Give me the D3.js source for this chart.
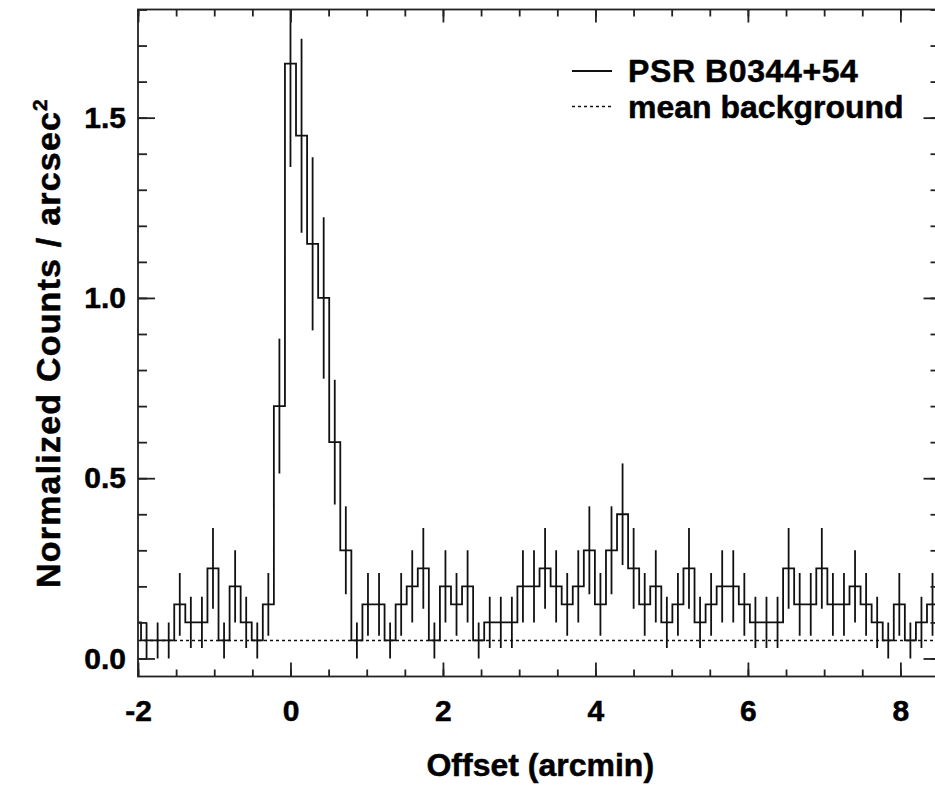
<!DOCTYPE html>
<html><head><meta charset="utf-8">
<script src="https://cdn.jsdelivr.net/npm/d3@7"></script>
<style>
body{margin:0;background:#fff}
svg{display:block}
text{font-family:"Liberation Sans",Arial,Helvetica,sans-serif;font-weight:bold;fill:#000;stroke:#000;stroke-width:0.5px}
</style>
</head><body>
<svg id="c" width="935" height="787"></svg>
<script>
// ---- data ----
const binWidth = 0.1452;          // arcmin per bin
const firstBinIndex = -14;        // index of first bin (bin centre = index * binWidth)
const counts = [0.10,0.05,0.05,0.05,0.15,0.10,0.10,0.25,0.05,0.20,0.10,0.05,0.15,0.70,
  1.65,1.45,1.15,1.00,0.60,0.30,0.05,0.15,0.15,0.05,
  0.15,0.20,0.25,0.05,0.20,0.15,0.20,0.05,0.10,0.10,
  0.10,0.20,0.20,0.25,0.20,0.15,0.20,0.30,0.15,0.30,
  0.40,0.25,0.15,0.20,0.10,0.15,0.25,0.10,0.15,0.20,
  0.20,0.15,0.10,0.10,0.10,0.25,0.15,0.15,0.25,0.15,
  0.15,0.20,0.15,0.10,0.05,0.15,0.05,0.10,0.15];
const errors = [0.071,0.05,0.05,0.05,0.087,0.071,0.071,0.112,0.05,0.10,0.071,0.05,0.087,0.187,
  0.287,0.269,0.240,0.224,0.173,0.122,0.05,0.087,0.087,0.05,
  0.087,0.10,0.112,0.05,0.10,0.087,0.10,0.05,0.071,0.071,
  0.071,0.10,0.10,0.112,0.10,0.087,0.10,0.122,0.087,0.122,
  0.141,0.112,0.087,0.10,0.071,0.087,0.112,0.071,0.087,0.10,
  0.10,0.087,0.071,0.071,0.071,0.112,0.087,0.087,0.112,0.087,
  0.087,0.10,0.087,0.071,0.05,0.087,0.05,0.071,0.087];
const meanBackground = 0.05;
const xDomain = [-2, 8.5];
const yDomain = [-0.05, 1.8];
const xTicks = [-2, 0, 2, 4, 6, 8];
const xTickLabels = ["-2", "0", "2", "4", "6", "8"];
const yTicks = [0.0, 0.5, 1.0, 1.5];
const yTickLabels = ["0.0", "0.5", "1.0", "1.5"];
const xMinorStep = 0.5, yMinorStep = 0.1;
const legendLabels = ["PSR B0344+54", "mean background"];
const xTitle = "Offset (arcmin)";
const yTitle = "Normalized Counts / arcsec";

// ---- layout ----
const L = 138, R = 938.5, T = 9.5, B = 676.5;
const svg = d3.select("#c");
const x = d3.scaleLinear().domain(xDomain).range([L, R]);
const y = d3.scaleLinear().domain(yDomain).range([B, T]);
const ink = "#111";

svg.append("defs").append("clipPath").attr("id", "clip")
  .append("rect").attr("x", L).attr("y", T).attr("width", R - L).attr("height", B - T);

const bins = counts.map((v, i) => {
  const c = (firstBinIndex + i) * binWidth;
  return {c, v, e: errors[i]};
});

const plot = svg.append("g").attr("clip-path", "url(#clip)");

// histogram steps
const pts = [];
bins.forEach(b => { pts.push([b.c - binWidth / 2, b.v]); pts.push([b.c + binWidth / 2, b.v]); });
plot.append("path")
  .attr("d", d3.line().x(d => x(d[0])).y(d => y(d[1]))(pts))
  .attr("fill", "none").attr("stroke", ink).attr("stroke-width", 1.8);

// error bars
plot.selectAll("line.err").data(bins).join("line").attr("class", "err")
  .attr("x1", d => x(d.c)).attr("x2", d => x(d.c))
  .attr("y1", d => y(d.v - d.e)).attr("y2", d => y(d.v + d.e))
  .attr("stroke", ink).attr("stroke-width", 1.8);

// mean background
plot.append("line")
  .attr("x1", x(xDomain[0])).attr("x2", x(xDomain[1]))
  .attr("y1", y(meanBackground)).attr("y2", y(meanBackground))
  .attr("stroke", ink).attr("stroke-width", 1.6).attr("stroke-dasharray", "3,3");

// frame
svg.append("rect").attr("x", L).attr("y", T).attr("width", R - L).attr("height", B - T)
  .attr("fill", "none").attr("stroke", "#222").attr("stroke-width", 1.8);

const xMinor = d3.range(xDomain[0], xDomain[1] + 1e-6, xMinorStep);
const yMinor = d3.range(0, yDomain[1] + 1e-6, yMinorStep).map(v => +v.toFixed(2));

function styleAxis(g) {
  g.select(".domain").remove();
  g.selectAll("line").attr("stroke", "#222").attr("stroke-width", 1.8);
}
// minor ticks
svg.append("g").attr("transform", `translate(0,${B})`)
  .call(d3.axisBottom(x).tickValues(xMinor).tickSize(-7).tickFormat("")).call(styleAxis);
svg.append("g").attr("transform", `translate(0,${T})`)
  .call(d3.axisTop(x).tickValues(xMinor).tickSize(-7).tickFormat("")).call(styleAxis);
svg.append("g").attr("transform", `translate(${L},0)`)
  .call(d3.axisLeft(y).tickValues(yMinor).tickSize(-9).tickFormat("")).call(styleAxis);
svg.append("g").attr("transform", `translate(${R},0)`)
  .call(d3.axisRight(y).tickValues(yMinor).tickSize(-8).tickFormat("")).call(styleAxis);
// major ticks
const gx = svg.append("g").attr("transform", `translate(0,${B})`)
  .call(d3.axisBottom(x).tickValues(xTicks).tickSize(-14).tickPadding(23)
    .tickFormat((d, i) => xTickLabels[i])).call(styleAxis);
svg.append("g").attr("transform", `translate(0,${T})`)
  .call(d3.axisTop(x).tickValues(xTicks).tickSize(-13).tickFormat("")).call(styleAxis);
const gy = svg.append("g").attr("transform", `translate(${L},0)`)
  .call(d3.axisLeft(y).tickValues(yTicks).tickSize(-17).tickPadding(12)
    .tickFormat((d, i) => yTickLabels[i])).call(styleAxis);
svg.append("g").attr("transform", `translate(${R},0)`)
  .call(d3.axisRight(y).tickValues(yTicks).tickSize(-15).tickFormat("")).call(styleAxis);
[gx, gy].forEach(g => g.selectAll("text")
  .attr("font-family", "'Liberation Sans',Arial,sans-serif")
  .attr("font-weight", "bold").attr("font-size", 30).attr("fill", "#000")
  .attr("stroke", "#000").attr("stroke-width", 0.5));

// axis titles
svg.append("text").attr("x", (L + R) / 2 + 2).attr("y", 776).attr("text-anchor", "middle")
  .attr("font-size", 32).text(xTitle);
const yt = svg.append("text").attr("transform", "translate(60,343) rotate(-90)")
  .attr("text-anchor", "middle").attr("font-size", 34).attr("letter-spacing", 1.2);
yt.append("tspan").text(yTitle);
yt.append("tspan").attr("dy", -13).attr("font-size", 21).text("2");

// legend
const lx0 = 572, lx1 = 612, tx = 628;
svg.append("line").attr("x1", lx0).attr("x2", lx1).attr("y1", 71).attr("y2", 71)
  .attr("stroke", ink).attr("stroke-width", 1.8);
svg.append("text").attr("x", tx).attr("y", 82).attr("font-size", 32)
  .attr("letter-spacing", 0.6).text(legendLabels[0]);
svg.append("line").attr("x1", lx0).attr("x2", lx1).attr("y1", 106.5).attr("y2", 106.5)
  .attr("stroke", ink).attr("stroke-width", 1.6).attr("stroke-dasharray", "3,3");
svg.append("text").attr("x", tx).attr("y", 118).attr("font-size", 32).text(legendLabels[1]);
</script>
</body></html>
